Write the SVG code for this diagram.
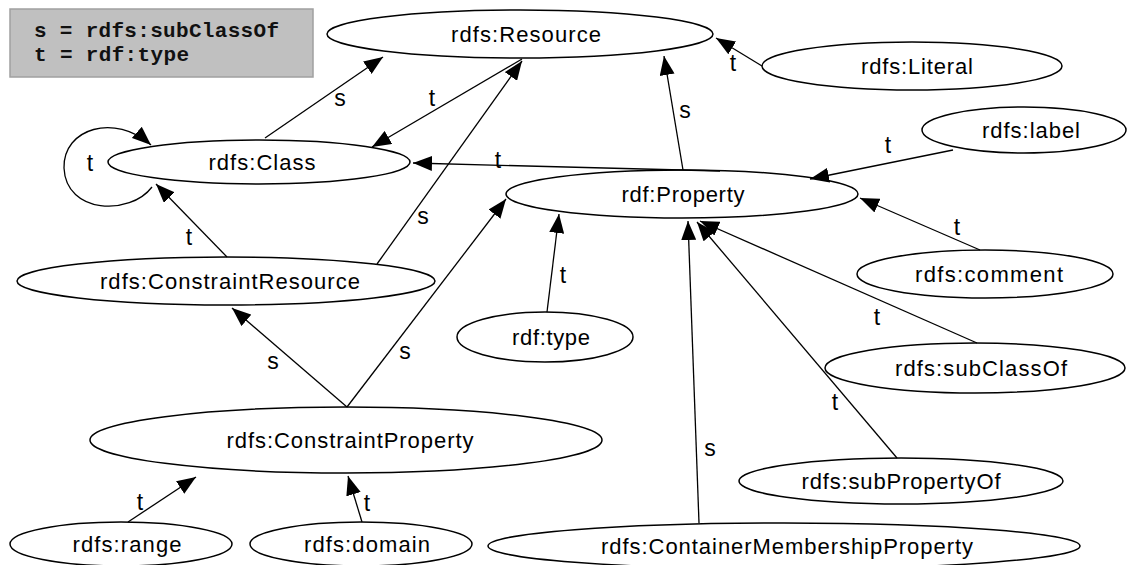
<svg xmlns="http://www.w3.org/2000/svg" width="1128" height="565" viewBox="0 0 1128 565">
<style>
.n ellipse{fill:#fff;stroke:#000;stroke-width:1.5}
.n text{font-family:"Liberation Sans",Arial,sans-serif;font-size:22px;text-anchor:middle;fill:#000}
.e path,.e line{fill:none;stroke:#000;stroke-width:1.3;marker-end:url(#ah)}
.lb{font-family:"Liberation Sans",Arial,sans-serif;font-size:23px;text-anchor:middle;fill:#000}
.lg{font-family:"Liberation Mono","Courier New",monospace;font-size:21px;font-weight:bold;fill:#111}
</style>
<defs>
<marker id="ah" viewBox="0 0 19 15" refX="19" refY="7.5" markerWidth="19" markerHeight="15" markerUnits="userSpaceOnUse" orient="auto">
<path d="M0,0 L19,7.5 L0,15 z" fill="#000"/>
</marker>
</defs>
<rect width="1128" height="565" fill="#fff"/>
<g id="legend">
<rect x="10" y="9" width="303" height="68" fill="#c0c0c0" stroke="#a0a0a0" stroke-width="1.5"/>
<text class="lg" x="34" y="37" textLength="245">s = rdfs:subClassOf</text>
<text class="lg" x="34" y="61" textLength="155">t = rdf:type</text>
</g>
<g id="rdfs-Resource" class="n"><ellipse cx="520" cy="34" rx="193" ry="24"/><text x="526" y="42" textLength="150">rdfs:Resource</text></g>
<g id="rdfs-Literal" class="n"><ellipse cx="912" cy="66" rx="150" ry="24"/><text x="917" y="74" textLength="112">rdfs:Literal</text></g>
<g id="rdfs-label" class="n"><ellipse cx="1024" cy="130" rx="102" ry="23"/><text x="1031" y="138" textLength="98">rdfs:label</text></g>
<g id="rdfs-Class" class="n"><ellipse cx="259" cy="162" rx="151" ry="22"/><text x="262" y="170" textLength="107">rdfs:Class</text></g>
<g id="rdf-Property" class="n"><ellipse cx="682" cy="194" rx="176" ry="24"/><text x="683" y="202" textLength="123">rdf:Property</text></g>
<g id="rdfs-comment" class="n"><ellipse cx="985" cy="274" rx="128" ry="24"/><text x="989" y="282" textLength="148">rdfs:comment</text></g>
<g id="rdfs-subClassOf" class="n"><ellipse cx="975" cy="368" rx="150" ry="25"/><text x="981" y="376" textLength="172">rdfs:subClassOf</text></g>
<g id="rdfs-ConstraintResource" class="n"><ellipse cx="226" cy="281" rx="209" ry="24"/><text x="230" y="289" textLength="260">rdfs:ConstraintResource</text></g>
<g id="rdf-type" class="n"><ellipse cx="545" cy="337" rx="88" ry="25"/><text x="551" y="345" textLength="78">rdf:type</text></g>
<g id="rdfs-ConstraintProperty" class="n"><ellipse cx="346" cy="440" rx="256" ry="33"/><text x="350" y="448" textLength="247">rdfs:ConstraintProperty</text></g>
<g id="rdfs-subPropertyOf" class="n"><ellipse cx="901" cy="481" rx="162" ry="23"/><text x="901" y="489" textLength="199">rdfs:subPropertyOf</text></g>
<g id="rdfs-range" class="n"><ellipse cx="121" cy="544" rx="111" ry="22"/><text x="127" y="552" textLength="109">rdfs:range</text></g>
<g id="rdfs-domain" class="n"><ellipse cx="361" cy="544" rx="111" ry="22"/><text x="367" y="552" textLength="126">rdfs:domain</text></g>
<g id="rdfs-ContainerMembershipProperty" class="n"><ellipse cx="784" cy="546" rx="296" ry="23"/><text x="787" y="554" textLength="372">rdfs:ContainerMembershipProperty</text></g>
<g id="connectors" class="e">
<line x1="265" y1="138" x2="383" y2="57"/>
<line x1="522" y1="59" x2="372" y2="147"/>
<line x1="762" y1="66" x2="716" y2="38"/>
<line x1="683" y1="170" x2="664" y2="56"/>
<line x1="720" y1="171" x2="413" y2="163"/>
<line x1="953" y1="150" x2="810" y2="179"/>
<line x1="980" y1="250" x2="860" y2="198"/>
<line x1="547" y1="312" x2="559" y2="214"/>
<line x1="347" y1="407" x2="506" y2="199"/>
<line x1="347" y1="407" x2="232" y2="308"/>
<line x1="377" y1="264" x2="522" y2="61"/>
<line x1="227" y1="257" x2="156" y2="184"/>
<path d="M152,187 C130,216 66,214 64,168 C63,128 115,113 151,145"/>
<line x1="977" y1="343" x2="700" y2="221"/>
<line x1="897" y1="458" x2="697" y2="222"/>
<line x1="699" y1="523" x2="688" y2="221"/>
<line x1="128" y1="522" x2="196" y2="477"/>
<line x1="362" y1="522" x2="348" y2="476"/>
</g>
<g id="edge-labels">
<text class="lb" x="340" y="106">s</text>
<text class="lb" x="432" y="106">t</text>
<text class="lb" x="733" y="71">t</text>
<text class="lb" x="685" y="118">s</text>
<text class="lb" x="498" y="168">t</text>
<text class="lb" x="888" y="153">t</text>
<text class="lb" x="957" y="235">t</text>
<text class="lb" x="563" y="283">t</text>
<text class="lb" x="405" y="359">s</text>
<text class="lb" x="273" y="369">s</text>
<text class="lb" x="423" y="224">s</text>
<text class="lb" x="189" y="245">t</text>
<text class="lb" x="90" y="171">t</text>
<text class="lb" x="877" y="325">t</text>
<text class="lb" x="835" y="410">t</text>
<text class="lb" x="710" y="456">s</text>
<text class="lb" x="140" y="510">t</text>
<text class="lb" x="367" y="511">t</text>
</g>
</svg>
